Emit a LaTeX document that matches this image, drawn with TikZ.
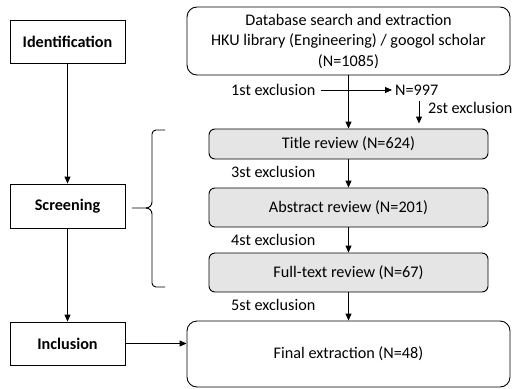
\documentclass[tikz,border=0pt]{standalone}
\usepackage{fontspec}
\setmainfont{Carlito}
\usetikzlibrary{arrows.meta,calc}
\begin{document}
\begin{tikzpicture}[x=1pt,y=-1pt,
  every node/.style={font=\fontsize{16.2}{20.5}\selectfont},
  arr/.style={-{Triangle[length=7pt,width=6pt]},line width=0.9pt},
  stage/.style={draw,line width=0.9pt,minimum width=115pt,inner sep=0pt,font=\fontsize{16.2}{20.5}\selectfont\bfseries},
  bigbox/.style={draw,line width=0.9pt,rounded corners=10pt,minimum width=323pt,inner sep=0pt,align=center},
  graybox/.style={draw,line width=0.9pt,rounded corners=6pt,fill=black!10,minimum width=279pt,inner sep=0pt},
  lbl/.style={inner sep=0pt,anchor=west}]
\useasboundingbox (0,0) rectangle (521,388);
% left stages
\node[stage,minimum height=43pt] (ident) at (67.5,41.5) {Identification};
\node[stage,minimum height=44pt] (screen) at (67.5,206) {Screening};
\node[stage,minimum height=43pt] (incl) at (67.5,343.5) {Inclusion};
% right boxes
\node[bigbox,minimum height=68pt] (db) at (348.5,41) {Database search and extraction\\HKU library (Engineering) / googol scholar\\(N=1085)};
\node[graybox,minimum height=30pt] (title) at (348.5,144) {Title review (N=624)};
\node[graybox,minimum height=39pt] (abs) at (348.5,207.5) {Abstract review (N=201)};
\node[graybox,minimum height=39pt] (full) at (348.5,272.5) {Full-text review (N=67)};
\node[bigbox,minimum height=66pt] (final) at (348.5,354) {Final extraction (N=48)};
% labels
\node[lbl] (ex1) at (231,90) {1st exclusion};
\node[lbl] (n997) at (395,90) {N=997};
\node[lbl] (ex2) at (428,108) {2st exclusion};
\node[lbl] (ex3) at (231,172) {3st exclusion};
\node[lbl] (ex4) at (231,240) {4st exclusion};
\node[lbl] (ex5) at (231,305) {5st exclusion};
% arrows
\draw[arr] (ident) -- (screen);
\draw[arr] (screen) -- (incl);
\draw[arr] (incl.east) -- (incl.east -| final.west);
\draw[arr] (db) -- (title);
\draw[arr] (title) -- (abs);
\draw[arr] (abs) -- (full);
\draw[arr] (full) -- (final);
\draw[arr,shorten <=5pt,shorten >=3pt] (ex1) -- (n997);
\coordinate (a2) at (419,101);
\draw[arr,shorten >=5pt] (a2) -- (a2 |- title.north);
% brace
\draw[line width=0.9pt,rounded corners=4pt] (165,130) -- (152,130) -- (152,202);
\draw[line width=0.9pt] (152,202) to[out=-90,in=0] (146,208) -- (132,208);
\draw[line width=0.9pt,rounded corners=4pt] (165,287) -- (152,287) -- (152,214);
\draw[line width=0.9pt] (152,214) to[out=90,in=0] (146,208);
\end{tikzpicture}
\end{document}
